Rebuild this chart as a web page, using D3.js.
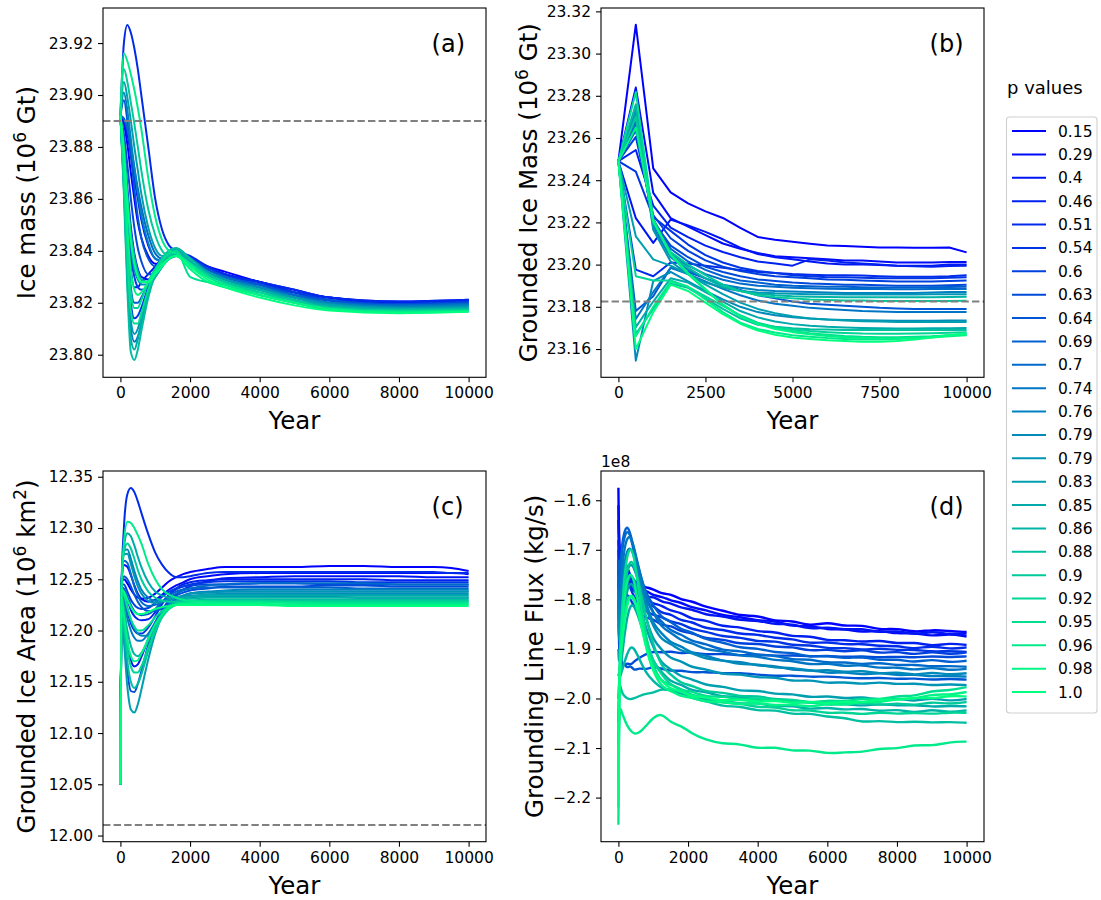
<!DOCTYPE html>
<html><head><meta charset="utf-8">
<script src="https://cdn.jsdelivr.net/npm/d3@7"></script>
<style>
body{margin:0;background:#fff}
text{font-family:"DejaVu Sans",sans-serif;fill:#000}
</style></head>
<body><svg id="chart" width="1101" height="900"></svg>
<script>
// ---------------- DATA ----------------
const pLabels = ["0.15","0.29","0.4","0.46","0.51","0.54","0.6","0.63","0.64","0.69","0.7","0.74","0.76","0.79","0.79","0.83","0.85","0.86","0.88","0.9","0.92","0.95","0.96","0.98","1.0"];

const yearTicks = [0,2000,4000,6000,8000,10000];
const yearTicksB = [0,2500,5000,7500,10000];
const massTicks = [23.80,23.82,23.84,23.86,23.88,23.90,23.92];
const groundedMassTicks = [23.16,23.18,23.20,23.22,23.24,23.26,23.28,23.30,23.32];
const areaTicks = [12.00,12.05,12.10,12.15,12.20,12.25,12.30,12.35];
const fluxTicks = [-2.2,-2.1,-2.0,-1.9,-1.8,-1.7,-1.6];

// (a) Ice mass
const yearsA = [0,100,200,300,400,500,600,800,1000,1200,1400,1600,2000,2500,3000,4000,5000,6000,8000,10000];
const iceMass = [
[23.892,23.889,23.881,23.870,23.860,23.851,23.845,23.838,23.835,23.835,23.837,23.838,23.837,23.834,23.832,23.828,23.825,23.822,23.8205,23.8212],
[23.892,23.881,23.864,23.849,23.839,23.833,23.830,23.829,23.831,23.835,23.838,23.839,23.837,23.834,23.831,23.828,23.824,23.822,23.820,23.821],
[23.892,23.874,23.850,23.833,23.826,23.826,23.828,23.831,23.834,23.837,23.839,23.840,23.837,23.833,23.831,23.828,23.824,23.821,23.820,23.8208],
[23.892,23.890,23.885,23.877,23.868,23.860,23.852,23.842,23.837,23.836,23.837,23.838,23.836,23.833,23.831,23.827,23.824,23.822,23.820,23.8206],
[23.892,23.920,23.927,23.924,23.918,23.910,23.900,23.880,23.860,23.848,23.842,23.840,23.838,23.834,23.831,23.828,23.825,23.822,23.8205,23.8212],
[23.892,23.869,23.840,23.820,23.814,23.815,23.818,23.826,23.832,23.836,23.839,23.840,23.837,23.833,23.830,23.827,23.824,23.821,23.8195,23.8205],
[23.892,23.876,23.853,23.838,23.830,23.826,23.825,23.826,23.830,23.835,23.838,23.840,23.837,23.833,23.830,23.827,23.824,23.821,23.8195,23.8202],
[23.892,23.885,23.873,23.860,23.849,23.841,23.836,23.831,23.831,23.834,23.837,23.839,23.837,23.833,23.830,23.827,23.823,23.821,23.8195,23.820],
[23.892,23.898,23.890,23.877,23.864,23.853,23.845,23.837,23.834,23.835,23.837,23.839,23.837,23.833,23.830,23.827,23.823,23.821,23.819,23.8198],
[23.892,23.872,23.845,23.826,23.820,23.820,23.822,23.828,23.833,23.837,23.839,23.840,23.836,23.832,23.830,23.826,23.823,23.820,23.819,23.8195],
[23.892,23.891,23.887,23.880,23.872,23.864,23.857,23.846,23.839,23.837,23.838,23.839,23.836,23.832,23.830,23.826,23.823,23.820,23.819,23.8195],
[23.892,23.866,23.832,23.810,23.805,23.807,23.812,23.823,23.831,23.836,23.839,23.840,23.837,23.832,23.829,23.826,23.822,23.820,23.8185,23.819],
[23.892,23.901,23.894,23.883,23.872,23.862,23.854,23.843,23.837,23.836,23.838,23.839,23.837,23.832,23.829,23.826,23.822,23.820,23.8185,23.819],
[23.892,23.878,23.857,23.842,23.833,23.829,23.827,23.827,23.830,23.834,23.838,23.840,23.836,23.832,23.829,23.826,23.822,23.8195,23.818,23.8188],
[23.892,23.867,23.835,23.813,23.808,23.810,23.815,23.825,23.832,23.837,23.840,23.841,23.837,23.832,23.829,23.825,23.822,23.8195,23.818,23.8185],
[23.892,23.905,23.899,23.890,23.880,23.871,23.862,23.849,23.841,23.838,23.838,23.839,23.836,23.832,23.829,23.825,23.822,23.819,23.818,23.818],
[23.892,23.864,23.829,23.806,23.802,23.806,23.812,23.824,23.832,23.837,23.840,23.841,23.837,23.831,23.828,23.825,23.821,23.819,23.8175,23.818],
[23.892,23.880,23.862,23.847,23.838,23.832,23.829,23.828,23.830,23.834,23.838,23.840,23.836,23.831,23.828,23.825,23.821,23.8185,23.8175,23.8178],
[23.892,23.862,23.825,23.801,23.798,23.802,23.809,23.822,23.831,23.837,23.840,23.841,23.837,23.831,23.828,23.824,23.821,23.818,23.817,23.8175],
[23.892,23.910,23.905,23.897,23.889,23.880,23.871,23.856,23.846,23.840,23.838,23.838,23.835,23.831,23.828,23.824,23.821,23.818,23.817,23.8172],
[23.892,23.872,23.843,23.824,23.818,23.818,23.821,23.828,23.833,23.837,23.839,23.839,23.834,23.830,23.827,23.824,23.820,23.818,23.8168,23.817],
[23.892,23.868,23.838,23.817,23.812,23.812,23.816,23.825,23.832,23.836,23.839,23.840,23.830,23.828,23.827,23.823,23.820,23.8175,23.8165,23.8168],
[23.892,23.916,23.913,23.908,23.902,23.895,23.887,23.868,23.853,23.844,23.840,23.839,23.835,23.830,23.827,23.823,23.820,23.8175,23.8165,23.8168],
[23.892,23.874,23.849,23.832,23.825,23.823,23.824,23.828,23.832,23.835,23.837,23.838,23.833,23.828,23.826,23.823,23.820,23.8175,23.8162,23.8165],
[23.892,23.879,23.859,23.844,23.835,23.830,23.828,23.828,23.831,23.834,23.837,23.838,23.834,23.829,23.826,23.822,23.819,23.817,23.816,23.8165]
];

// (b) Grounded ice mass
const yearsB = [0,500,1000,1500,2000,2500,3000,3500,4000,4500,5000,5500,6000,6500,7000,7500,8000,8500,9000,9500,10000];
const groundedMass = [
[23.249,23.3137,23.2456,23.2342,23.229,23.2252,23.2221,23.2174,23.2131,23.2118,23.2108,23.2099,23.2091,23.2088,23.2085,23.2081,23.2081,23.208,23.208,23.2081,23.2058],
[23.249,23.2839,23.234,23.222,23.218,23.214,23.21,23.2075,23.2055,23.204,23.2035,23.203,23.2025,23.202,23.202,23.2015,23.201,23.201,23.201,23.2012,23.2012],
[23.249,23.222,23.2103,23.2213,23.2185,23.2155,23.212,23.208,23.205,23.2035,23.2025,23.2015,23.2005,23.2,23.2,23.1998,23.1995,23.1995,23.1995,23.2,23.2],
[23.249,23.2543,23.228,23.2175,23.213,23.209,23.206,23.2035,23.2015,23.2005,23.1995,23.2025,23.202,23.201,23.2005,23.2,23.1995,23.1992,23.199,23.1993,23.1995],
[23.249,23.1976,23.1945,23.201,23.2005,23.1995,23.1985,23.1975,23.1965,23.196,23.1955,23.1952,23.195,23.195,23.1948,23.1945,23.1943,23.1943,23.1943,23.1945,23.195],
[23.249,23.2441,23.2225,23.216,23.2095,23.2045,23.201,23.1985,23.197,23.196,23.195,23.1945,23.194,23.194,23.1938,23.1935,23.1935,23.1935,23.1935,23.1938,23.194],
[23.249,23.2605,23.2235,23.2125,23.2065,23.202,23.199,23.197,23.1955,23.1945,23.194,23.1935,23.193,23.1928,23.1925,23.1922,23.192,23.192,23.192,23.1922,23.1925],
[23.249,23.2637,23.2205,23.209,23.2035,23.199,23.1965,23.1945,23.193,23.1922,23.1915,23.191,23.1908,23.1905,23.1905,23.1902,23.19,23.19,23.19,23.1902,23.1905],
[23.249,23.178,23.185,23.1985,23.1965,23.1935,23.1905,23.188,23.1855,23.184,23.1825,23.1815,23.181,23.1805,23.18,23.1795,23.1792,23.179,23.179,23.179,23.179],
[23.249,23.2661,23.2215,23.2075,23.2015,23.1975,23.1945,23.1925,23.1915,23.1905,23.19,23.1898,23.1895,23.1895,23.1893,23.1892,23.1892,23.1892,23.1893,23.1894,23.1895],
[23.249,23.2684,23.219,23.2055,23.1995,23.1955,23.1928,23.191,23.19,23.1895,23.189,23.1888,23.1886,23.1885,23.1885,23.1884,23.1883,23.1883,23.1884,23.1885,23.1885],
[23.249,23.1742,23.187,23.1985,23.1955,23.192,23.1885,23.1855,23.183,23.1815,23.1805,23.1795,23.179,23.1785,23.178,23.1778,23.1776,23.1775,23.1775,23.1775,23.1775],
[23.249,23.2707,23.2175,23.2035,23.1975,23.1935,23.1905,23.189,23.188,23.1875,23.1872,23.187,23.1868,23.1866,23.1865,23.1865,23.1865,23.1866,23.1868,23.187,23.187],
[23.249,23.1545,23.1922,23.1965,23.192,23.1875,23.1835,23.18,23.1775,23.176,23.175,23.1745,23.174,23.1738,23.1736,23.1735,23.1734,23.1734,23.1734,23.1735,23.1735],
[23.249,23.2732,23.2165,23.2015,23.1955,23.1915,23.189,23.1875,23.1868,23.1864,23.1862,23.186,23.186,23.1858,23.1858,23.1858,23.1858,23.1858,23.1859,23.186,23.186],
[23.249,23.2134,23.2025,23.1995,23.1955,23.1905,23.186,23.182,23.179,23.177,23.1755,23.1745,23.174,23.1735,23.1732,23.173,23.1728,23.1728,23.1728,23.1728,23.1728],
[23.249,23.1704,23.1825,23.1935,23.1915,23.187,23.1825,23.178,23.175,23.173,23.1718,23.171,23.1705,23.1702,23.17,23.1698,23.1697,23.1697,23.1698,23.1699,23.17],
[23.249,23.276,23.221,23.2045,23.1985,23.1935,23.1895,23.1875,23.1862,23.1855,23.185,23.1848,23.1846,23.1845,23.1845,23.1845,23.1845,23.1845,23.1845,23.1846,23.1848],
[23.249,23.1671,23.179,23.191,23.189,23.184,23.179,23.1745,23.1715,23.1705,23.1698,23.1694,23.1692,23.169,23.169,23.169,23.169,23.169,23.169,23.169,23.169],
[23.249,23.27,23.22,23.206,23.2,23.195,23.1905,23.1875,23.1855,23.1845,23.184,23.1835,23.1832,23.183,23.183,23.1828,23.1828,23.1828,23.1828,23.1828,23.1829],
[23.249,23.1945,23.1925,23.1925,23.1895,23.185,23.1805,23.176,23.1725,23.1705,23.1692,23.1685,23.168,23.1676,23.1673,23.1672,23.1672,23.1673,23.1675,23.1677,23.168],
[23.249,23.2818,23.2215,23.2045,23.1955,23.188,23.181,23.1755,23.172,23.17,23.1685,23.1675,23.1668,23.1662,23.1658,23.1656,23.1656,23.1658,23.166,23.1665,23.167],
[23.249,23.166,23.18,23.192,23.1895,23.1835,23.1775,23.1725,23.1695,23.1678,23.1665,23.1658,23.1652,23.1648,23.1645,23.1645,23.1648,23.1652,23.1658,23.1665,23.1668],
[23.249,23.265,23.2205,23.205,23.196,23.1885,23.181,23.1755,23.1718,23.1695,23.168,23.167,23.1662,23.1656,23.1652,23.165,23.165,23.1652,23.1655,23.166,23.1665],
[23.249,23.16,23.1775,23.1905,23.1875,23.182,23.1765,23.172,23.1688,23.1668,23.1655,23.1648,23.1642,23.1638,23.1635,23.1635,23.1638,23.1645,23.1655,23.1665,23.1675]
];

// (c) Grounded ice area
const yearsC = [0,30,100,200,300,400,500,600,800,1000,1200,1400,1600,1800,2000,2500,3000,4000,5000,6000,7000,8000,9000,9500,10000];
const groundedArea = [
[12.05,12.248,12.25,12.246,12.24,12.235,12.232,12.231,12.232,12.236,12.242,12.248,12.252,12.255,12.257,12.26,12.262,12.262,12.262,12.263,12.263,12.262,12.262,12.261,12.258],
[12.05,12.245,12.264,12.262,12.254,12.244,12.236,12.231,12.228,12.23,12.235,12.24,12.244,12.247,12.25,12.253,12.255,12.256,12.256,12.256,12.256,12.256,12.256,12.256,12.255],
[12.05,12.232,12.215,12.188,12.171,12.165,12.167,12.174,12.192,12.208,12.22,12.229,12.235,12.24,12.243,12.248,12.251,12.252,12.253,12.253,12.253,12.253,12.252,12.252,12.252],
[12.05,12.242,12.24,12.23,12.22,12.214,12.211,12.21,12.211,12.218,12.227,12.235,12.241,12.245,12.247,12.249,12.25,12.25,12.25,12.25,12.25,12.249,12.249,12.249,12.249],
[12.05,12.24,12.30,12.333,12.339,12.335,12.326,12.315,12.294,12.276,12.264,12.256,12.252,12.252,12.253,12.256,12.257,12.257,12.257,12.257,12.257,12.257,12.257,12.256,12.256],
[12.05,12.238,12.232,12.218,12.207,12.2,12.197,12.197,12.203,12.214,12.226,12.235,12.24,12.243,12.245,12.247,12.248,12.248,12.248,12.248,12.247,12.247,12.247,12.247,12.247],
[12.05,12.245,12.245,12.238,12.23,12.225,12.222,12.221,12.222,12.227,12.233,12.238,12.241,12.243,12.244,12.245,12.245,12.246,12.246,12.245,12.245,12.245,12.245,12.245,12.245],
[12.05,12.225,12.197,12.16,12.141,12.14,12.148,12.16,12.186,12.206,12.22,12.229,12.234,12.237,12.239,12.241,12.243,12.243,12.243,12.244,12.244,12.243,12.243,12.243,12.243],
[12.05,12.24,12.253,12.25,12.243,12.235,12.228,12.223,12.219,12.219,12.222,12.226,12.229,12.231,12.232,12.233,12.233,12.233,12.233,12.233,12.232,12.232,12.232,12.232,12.232],
[12.05,12.242,12.241,12.233,12.225,12.219,12.216,12.215,12.216,12.221,12.228,12.234,12.238,12.24,12.241,12.242,12.242,12.242,12.242,12.242,12.241,12.241,12.241,12.241,12.241],
[12.05,12.245,12.268,12.266,12.255,12.243,12.234,12.228,12.224,12.225,12.228,12.232,12.236,12.239,12.241,12.244,12.245,12.246,12.246,12.246,12.246,12.245,12.245,12.245,12.245],
[12.05,12.238,12.23,12.212,12.2,12.193,12.19,12.19,12.197,12.208,12.218,12.226,12.231,12.234,12.236,12.237,12.238,12.238,12.238,12.238,12.238,12.238,12.238,12.238,12.238],
[12.05,12.245,12.278,12.279,12.27,12.258,12.248,12.24,12.232,12.229,12.229,12.23,12.232,12.234,12.236,12.238,12.239,12.24,12.24,12.24,12.24,12.24,12.24,12.24,12.24],
[12.05,12.24,12.235,12.222,12.21,12.202,12.197,12.195,12.195,12.203,12.214,12.223,12.229,12.232,12.234,12.235,12.236,12.236,12.236,12.236,12.236,12.236,12.236,12.236,12.236],
[12.05,12.243,12.274,12.275,12.265,12.253,12.243,12.236,12.229,12.227,12.228,12.23,12.232,12.234,12.236,12.237,12.238,12.238,12.238,12.238,12.238,12.238,12.238,12.238,12.238],
[12.05,12.22,12.19,12.145,12.123,12.12,12.128,12.142,12.172,12.197,12.214,12.224,12.229,12.232,12.233,12.235,12.235,12.235,12.235,12.235,12.235,12.235,12.235,12.235,12.235],
[12.05,12.24,12.28,12.295,12.292,12.283,12.272,12.262,12.247,12.238,12.234,12.232,12.232,12.232,12.233,12.234,12.234,12.234,12.234,12.234,12.234,12.234,12.234,12.234,12.234],
[12.05,12.235,12.222,12.2,12.185,12.177,12.175,12.178,12.19,12.204,12.215,12.223,12.228,12.23,12.231,12.232,12.232,12.232,12.232,12.232,12.232,12.232,12.232,12.232,12.232],
[12.05,12.228,12.205,12.17,12.15,12.144,12.148,12.157,12.18,12.2,12.214,12.222,12.226,12.228,12.229,12.23,12.23,12.23,12.23,12.23,12.23,12.23,12.23,12.23,12.23],
[12.05,12.24,12.276,12.285,12.28,12.27,12.259,12.25,12.238,12.232,12.229,12.228,12.228,12.228,12.229,12.229,12.229,12.229,12.229,12.229,12.229,12.229,12.229,12.229,12.229],
[12.05,12.23,12.21,12.181,12.165,12.159,12.159,12.165,12.183,12.2,12.213,12.221,12.225,12.227,12.228,12.229,12.229,12.229,12.228,12.228,12.228,12.228,12.228,12.228,12.228],
[12.05,12.24,12.235,12.222,12.211,12.204,12.2,12.2,12.205,12.213,12.219,12.223,12.226,12.227,12.228,12.228,12.228,12.228,12.227,12.227,12.227,12.227,12.227,12.227,12.227],
[12.05,12.235,12.285,12.306,12.305,12.3,12.293,12.285,12.265,12.25,12.24,12.235,12.232,12.23,12.229,12.228,12.227,12.227,12.227,12.226,12.226,12.226,12.226,12.226,12.226],
[12.05,12.232,12.215,12.19,12.175,12.17,12.171,12.177,12.192,12.206,12.216,12.222,12.225,12.226,12.226,12.226,12.226,12.226,12.225,12.225,12.225,12.225,12.225,12.225,12.225],
[12.05,12.24,12.238,12.23,12.223,12.218,12.216,12.216,12.218,12.221,12.223,12.224,12.225,12.225,12.225,12.225,12.225,12.225,12.224,12.224,12.224,12.224,12.224,12.224,12.224]
];

// (d) Grounding line flux (x 1e8 kg/s)
const yearsD = [0,20,80,160,250,350,450,600,800,1000,1250,1500,1800,2100,2500,3000,3500,4000,4500,5000,5500,6000,6500,7000,7500,8000,8500,9000,9500,10000];
const glFlux = [
[-1.575,-1.700,-1.728,-1.752,-1.742,-1.756,-1.762,-1.771,-1.776,-1.779,-1.789,-1.789,-1.801,-1.803,-1.816,-1.822,-1.834,-1.832,-1.845,-1.842,-1.855,-1.845,-1.855,-1.851,-1.862,-1.858,-1.867,-1.861,-1.864,-1.866],
[-1.610,-1.715,-1.745,-1.738,-1.760,-1.768,-1.775,-1.785,-1.781,-1.793,-1.794,-1.803,-1.806,-1.817,-1.821,-1.833,-1.835,-1.844,-1.842,-1.856,-1.852,-1.862,-1.859,-1.867,-1.862,-1.870,-1.867,-1.875,-1.869,-1.875],
[-1.640,-1.730,-1.760,-1.768,-1.775,-1.772,-1.784,-1.790,-1.797,-1.793,-1.806,-1.807,-1.818,-1.819,-1.832,-1.833,-1.843,-1.842,-1.851,-1.849,-1.861,-1.855,-1.862,-1.858,-1.868,-1.862,-1.872,-1.864,-1.871,-1.869],
[-1.680,-1.760,-1.745,-1.720,-1.735,-1.752,-1.770,-1.788,-1.800,-1.809,-1.812,-1.824,-1.826,-1.841,-1.841,-1.856,-1.855,-1.866,-1.865,-1.876,-1.873,-1.884,-1.881,-1.887,-1.882,-1.890,-1.886,-1.895,-1.888,-1.892],
[-1.700,-1.780,-1.760,-1.742,-1.748,-1.760,-1.776,-1.795,-1.809,-1.812,-1.829,-1.829,-1.844,-1.844,-1.860,-1.860,-1.871,-1.870,-1.879,-1.879,-1.890,-1.885,-1.892,-1.889,-1.895,-1.893,-1.901,-1.893,-1.901,-1.897],
[-1.720,-1.800,-1.790,-1.770,-1.762,-1.778,-1.795,-1.812,-1.824,-1.832,-1.835,-1.846,-1.848,-1.861,-1.864,-1.876,-1.876,-1.886,-1.883,-1.894,-1.891,-1.900,-1.897,-1.903,-1.898,-1.903,-1.901,-1.906,-1.904,-1.906],
[-1.740,-1.820,-1.805,-1.785,-1.790,-1.800,-1.815,-1.829,-1.838,-1.839,-1.854,-1.852,-1.866,-1.867,-1.880,-1.880,-1.891,-1.888,-1.897,-1.895,-1.905,-1.900,-1.907,-1.900,-1.910,-1.904,-1.913,-1.904,-1.912,-1.907],
[-1.760,-1.900,-1.925,-1.935,-1.928,-1.933,-1.925,-1.918,-1.910,-1.905,-1.908,-1.904,-1.910,-1.906,-1.912,-1.909,-1.914,-1.910,-1.915,-1.912,-1.916,-1.913,-1.917,-1.914,-1.918,-1.915,-1.918,-1.914,-1.917,-1.915],
[-1.800,-1.920,-1.935,-1.928,-1.940,-1.932,-1.945,-1.938,-1.942,-1.935,-1.940,-1.945,-1.943,-1.948,-1.946,-1.950,-1.948,-1.952,-1.955,-1.953,-1.957,-1.955,-1.958,-1.960,-1.958,-1.961,-1.959,-1.963,-1.960,-1.962],
[-1.720,-1.780,-1.700,-1.665,-1.650,-1.668,-1.700,-1.745,-1.790,-1.812,-1.838,-1.844,-1.862,-1.865,-1.882,-1.886,-1.899,-1.898,-1.908,-1.907,-1.917,-1.913,-1.920,-1.915,-1.924,-1.920,-1.928,-1.920,-1.928,-1.924],
[-1.760,-1.800,-1.715,-1.675,-1.660,-1.672,-1.705,-1.752,-1.800,-1.829,-1.845,-1.864,-1.870,-1.885,-1.889,-1.904,-1.903,-1.914,-1.912,-1.923,-1.920,-1.929,-1.926,-1.932,-1.927,-1.934,-1.931,-1.936,-1.934,-1.936],
[-1.780,-1.850,-1.760,-1.700,-1.675,-1.672,-1.695,-1.742,-1.795,-1.827,-1.858,-1.866,-1.884,-1.887,-1.902,-1.904,-1.915,-1.914,-1.924,-1.923,-1.933,-1.928,-1.936,-1.931,-1.940,-1.936,-1.944,-1.936,-1.944,-1.940],
[-1.800,-1.870,-1.790,-1.730,-1.700,-1.695,-1.712,-1.755,-1.810,-1.851,-1.869,-1.888,-1.894,-1.909,-1.912,-1.926,-1.925,-1.935,-1.933,-1.944,-1.941,-1.950,-1.946,-1.953,-1.947,-1.954,-1.951,-1.956,-1.954,-1.956],
[-1.820,-1.880,-1.830,-1.775,-1.740,-1.728,-1.735,-1.770,-1.820,-1.855,-1.883,-1.889,-1.905,-1.907,-1.921,-1.922,-1.932,-1.930,-1.939,-1.937,-1.946,-1.941,-1.948,-1.943,-1.951,-1.946,-1.954,-1.946,-1.953,-1.949],
[-1.850,-1.900,-1.850,-1.800,-1.765,-1.750,-1.758,-1.790,-1.840,-1.883,-1.902,-1.920,-1.924,-1.938,-1.940,-1.952,-1.950,-1.959,-1.956,-1.966,-1.962,-1.970,-1.966,-1.972,-1.966,-1.972,-1.969,-1.974,-1.971,-1.973],
[-1.900,-1.940,-1.880,-1.820,-1.780,-1.765,-1.775,-1.810,-1.860,-1.897,-1.931,-1.940,-1.957,-1.960,-1.974,-1.975,-1.986,-1.983,-1.992,-1.990,-1.999,-1.994,-2.001,-1.996,-2.004,-1.998,-2.007,-1.998,-2.006,-2.001],
[-1.950,-1.960,-1.930,-1.880,-1.835,-1.810,-1.812,-1.840,-1.885,-1.928,-1.947,-1.967,-1.971,-1.985,-1.986,-1.998,-1.995,-2.004,-2.001,-2.010,-2.006,-2.014,-2.010,-2.016,-2.010,-2.015,-2.013,-2.017,-2.015,-2.016],
[-2.000,-1.960,-1.950,-1.930,-1.910,-1.895,-1.898,-1.920,-1.950,-1.965,-1.981,-1.981,-1.992,-1.992,-2.004,-2.003,-2.012,-2.008,-2.017,-2.014,-2.023,-2.017,-2.024,-2.019,-2.027,-2.021,-2.030,-2.021,-2.029,-2.024],
[-2.050,-1.960,-1.985,-1.995,-2.000,-2.002,-2.000,-1.995,-1.990,-1.989,-1.980,-1.984,-1.986,-2.001,-2.004,-2.017,-2.015,-2.026,-2.022,-2.033,-2.029,-2.038,-2.038,-2.049,-2.044,-2.049,-2.046,-2.049,-2.047,-2.049],
[-2.100,-1.950,-1.860,-1.790,-1.740,-1.720,-1.730,-1.770,-1.840,-1.892,-1.938,-1.951,-1.970,-1.973,-1.987,-1.987,-1.997,-1.994,-2.003,-2.001,-2.010,-2.005,-2.012,-2.007,-2.015,-2.008,-2.015,-2.006,-2.012,-2.007],
[-2.150,-1.960,-1.900,-1.840,-1.800,-1.790,-1.800,-1.830,-1.880,-1.928,-1.952,-1.974,-1.980,-1.995,-1.997,-2.010,-2.009,-2.019,-2.016,-2.026,-2.022,-2.031,-2.027,-2.033,-2.027,-2.032,-2.028,-2.032,-2.028,-2.029],
[-2.180,-1.950,-1.850,-1.760,-1.710,-1.695,-1.710,-1.790,-1.880,-1.937,-1.968,-1.971,-1.984,-1.985,-1.997,-1.995,-2.003,-1.998,-2.006,-2.002,-2.010,-2.003,-2.007,-1.999,-2.003,-1.994,-1.996,-1.984,-1.984,-1.977],
[-2.255,-2.010,-2.025,-2.040,-2.055,-2.065,-2.072,-2.070,-2.055,-2.038,-2.029,-2.050,-2.054,-2.071,-2.083,-2.092,-2.091,-2.102,-2.097,-2.107,-2.103,-2.112,-2.108,-2.109,-2.100,-2.102,-2.093,-2.096,-2.088,-2.087],
[-2.220,-1.960,-1.880,-1.800,-1.760,-1.745,-1.760,-1.820,-1.900,-1.947,-1.978,-1.984,-1.997,-1.997,-2.008,-2.006,-2.013,-2.008,-2.015,-2.011,-2.018,-2.010,-2.014,-2.006,-2.009,-2.000,-2.002,-1.991,-1.993,-1.987],
[-2.200,-1.950,-1.900,-1.850,-1.810,-1.790,-1.795,-1.835,-1.900,-1.948,-1.965,-1.982,-1.984,-1.997,-1.996,-2.006,-2.001,-2.008,-2.003,-2.011,-2.005,-2.012,-2.005,-2.009,-2.000,-2.004,-1.997,-2.001,-1.994,-1.996]
];

// ---------------- DRAW ----------------
const svg = d3.select("#chart");
const colorOf = d3.scaleLinear().domain([0, pLabels.length-1]).range(["#0000ff","#00ff80"]).interpolate(d3.interpolateRgb);

const panels = [
  {left:103, top:8, right:486, bottom:377.3, times:yearsA, data:iceMass, yDom:[23.7913,23.9335], yTicks:massTicks, fmt:".2f",
   xTicks:yearTicks, dash:23.89, curve:d3.curveMonotoneX, tag:"(a)", lw:2,
   label:[["Ice mass (10",0],["6",1],[" Gt)",0]], labelX:35},
  {left:601, top:8, right:984, bottom:377.3, times:yearsB, data:groundedMass, yDom:[23.1466,23.3216], yTicks:groundedMassTicks, fmt:".2f",
   xTicks:yearTicksB, dash:23.1825, curve:d3.curveLinear, tag:"(b)", lw:2,
   label:[["Grounded Ice Mass (10",0],["6",1],[" Gt)",0]], labelX:537},
  {left:103, top:471, right:486, bottom:841.7, times:yearsC, data:groundedArea, yDom:[11.994,12.3556], yTicks:areaTicks, fmt:".2f",
   xTicks:yearTicks, dash:12.0104, curve:d3.curveMonotoneX, tag:"(c)", lw:2,
   label:[["Grounded Ice Area (10",0],["6",1],[" km",0],["2",1],[")",0]], labelX:35},
  {left:601, top:471, right:984, bottom:841.7, times:yearsD, data:glFlux, yDom:[-2.289,-1.541], yTicks:fluxTicks, fmt:".1f",
   xTicks:yearTicks, dash:null, curve:d3.curveBasis, tag:"(d)", lw:2.4,
   label:[["Grounding Line Flux (kg/s)",0]], labelX:543, offsetText:"1e8"}
];

panels.forEach(p => {
  const x = d3.scaleLinear().domain([-500,10500]).range([p.left,p.right]);
  const y = d3.scaleLinear().domain(p.yDom).range([p.bottom,p.top]);
  const g = svg.append("g");
  const cid = "clip" + p.tag.replace(/\W/g,"");
  svg.append("clipPath").attr("id",cid).append("rect")
     .attr("x",p.left).attr("y",p.top).attr("width",p.right-p.left).attr("height",p.bottom-p.top);

  const lines = g.append("g").attr("clip-path",`url(#${cid})`);
  const line = d3.line().defined(d=>d[1]!=null).x(d=>x(d[0])).y(d=>y(d[1])).curve(p.curve);
  p.data.forEach((s,i) => {
    lines.append("path").attr("d", line(p.times.map((t,k)=>[t,s[k]])))
      .attr("fill","none").attr("stroke",colorOf(i)).attr("stroke-width",p.lw)
      .attr("stroke-linejoin","round");
  });
  if (p.dash!=null) {
    lines.append("line").attr("x1",p.left).attr("x2",p.right).attr("y1",y(p.dash)).attr("y2",y(p.dash))
      .attr("stroke","#808080").attr("stroke-width",2).attr("stroke-dasharray","7.4,3.2");
  }
  // axes
  const ax = g.append("g").attr("transform",`translate(0,${p.bottom})`)
    .call(d3.axisBottom(x).tickValues(p.xTicks).tickFormat(d3.format("d")).tickSize(5).tickPadding(5));
  const ay = g.append("g").attr("transform",`translate(${p.left},0)`)
    .call(d3.axisLeft(y).tickValues(p.yTicks).tickFormat(d3.format(p.fmt)).tickSize(5).tickPadding(5));
  [ax,ay].forEach(a=>{
    a.select(".domain").remove();
    a.selectAll(".tick line").attr("stroke","#000").attr("stroke-width",1.1);
    a.selectAll(".tick text").style("font-size","15.5px").style("font-family","DejaVu Sans").attr("fill","#000");
  });
  g.append("rect").attr("x",p.left).attr("y",p.top).attr("width",p.right-p.left).attr("height",p.bottom-p.top)
    .attr("fill","none").attr("stroke","#000").attr("stroke-width",1.1);

  // x label
  g.append("text").attr("x",(p.left+p.right)/2).attr("y",p.bottom+52).attr("text-anchor","middle")
    .style("font-size","24.5px").text("Year");
  // y label
  const yl = g.append("text").attr("transform",`translate(${p.labelX},${(p.top+p.bottom)/2}) rotate(-90)`)
    .attr("text-anchor","middle").style("font-size","24.5px");
  let prevSup = false;
  p.label.forEach(([txt,sup])=>{
    const ts = yl.append("tspan").text(txt);
    if (sup) { ts.attr("dy",-9).style("font-size","17px"); prevSup = true; }
    else if (prevSup) { ts.attr("dy",9); prevSup = false; }
  });
  // tag
  g.append("text").attr("x",p.left+0.858*(p.right-p.left)).attr("y",p.top+43.5)
    .style("font-size","24px").text(p.tag);
  if (p.offsetText) {
    g.append("text").attr("x",p.left).attr("y",p.top-4.5).style("font-size","15.5px").text(p.offsetText);
  }
});

// legend
svg.append("text").attr("x",1007).attr("y",94).style("font-size","18px").text("p values");
svg.append("rect").attr("x",1006.5).attr("y",117).attr("width",90.5).attr("height",596).attr("rx",3)
  .attr("fill","#fff").attr("stroke","#d0d0d0").attr("stroke-width",1.1);
const lg = svg.append("g");
pLabels.forEach((lab,i)=>{
  const yy = 131 + i*23.375;
  lg.append("line").attr("x1",1012).attr("x2",1046).attr("y1",yy).attr("y2",yy)
    .attr("stroke",colorOf(i)).attr("stroke-width",2);
  lg.append("text").attr("x",1058).attr("y",yy).attr("dy","0.36em").style("font-size","15.5px").text(lab);
});
</script></body></html>
